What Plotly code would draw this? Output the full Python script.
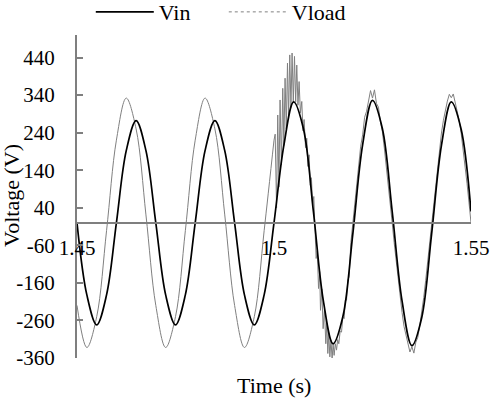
import plotly.graph_objects as go

# ---- data ----
t_vin = [1.4500, 1.4525, 1.4550, 1.4575, 1.4600, 1.4625, 1.4650, 1.4675, 1.4700, 1.4725,
         1.4750, 1.4775, 1.4800, 1.4825, 1.4850, 1.4875, 1.4900, 1.4925, 1.4950, 1.4975,
         1.5000, 1.5025, 1.5050, 1.5075, 1.5100, 1.5125, 1.5150, 1.5175, 1.5200, 1.5225,
         1.5250, 1.5275, 1.5300, 1.5325, 1.5350, 1.5375, 1.5400, 1.5425, 1.5450, 1.5475,
         1.5500]
vin = [0, -192, -272, -192, 0, 192, 272, 192, 0, -192,
       -272, -192, 0, 192, 272, 192, 0, -192, -272, -192,
       0, 206, 322, 249, 30, -206, -322, -249, -30, 208,
       326, 251, 30, -208, -327, -252, -30, 206, 322, 249,
       30]

t_vload_before = [1.4500, 1.4525, 1.4550, 1.4575, 1.4600, 1.4625, 1.4650, 1.4675, 1.4700, 1.4725,
                  1.4750, 1.4775, 1.4800, 1.4825, 1.4850, 1.4875, 1.4900, 1.4925, 1.4950, 1.4975,
                  1.5000]
vload_before = [-220, -332, -250, -21, 220, 332, 250, 21, -220, -332,
                -250, -21, 220, 332, 250, 21, -220, -332, -250, -21,
                220]

t_vload_after = [1.50000, 1.50030, 1.50065, 1.50095, 1.50125, 1.50154, 1.50188, 1.50222, 1.50250, 1.50281,
                 1.50312, 1.50342, 1.50371, 1.50400, 1.50430, 1.50459, 1.50490, 1.50520, 1.50550, 1.50578,
                 1.50608, 1.50637, 1.50670, 1.50705, 1.50735, 1.50764, 1.50800, 1.50832, 1.50860, 1.50891,
                 1.50920, 1.50950, 1.50980, 1.51010, 1.51040, 1.51070, 1.51100, 1.51130, 1.51160, 1.51180,
                 1.51214, 1.51247, 1.51281, 1.51315, 1.51340, 1.51366, 1.51391, 1.51417, 1.51446, 1.51475,
                 1.51500, 1.51526, 1.51556, 1.51587, 1.51616, 1.51645, 1.51680, 1.51714, 1.51747, 1.51780,
                 1.51810, 1.51841, 1.51874, 1.51907,
                 1.5195, 1.5200, 1.5205, 1.5210, 1.5215, 1.5220, 1.5225, 1.5230, 1.5235, 1.5240,
                 1.5245, 1.5250, 1.5255, 1.5260, 1.5265, 1.5270, 1.5275, 1.5280, 1.5285, 1.5290,
                 1.5295, 1.5300, 1.5305, 1.5310, 1.5315, 1.5320, 1.5325, 1.5330, 1.5335, 1.5340,
                 1.5345, 1.5350, 1.5355, 1.5360, 1.5365, 1.5370, 1.5375, 1.5380, 1.5385, 1.5390,
                 1.5395, 1.5400, 1.5405, 1.5410, 1.5415, 1.5420, 1.5425, 1.5430, 1.5435, 1.5440,
                 1.5445, 1.5450, 1.5455, 1.5460, 1.5465, 1.5470, 1.5475, 1.5480, 1.5485, 1.5490,
                 1.5495, 1.5500]
vload_after = [220, 236, 40, 287, 95, 327, 154, 358, 206, 385,
               250, 425, 284, 447, 307, 452, 320, 443, 322, 420,
               313, 376, 292, 323, 245, 275, 200, 225, 150, 181,
               100, 120, 45, 70, -15, -95, -75, -175, -130, -233,
               -176, -282, -229, -322, -267, -348, -293, -357, -312, -363,
               -322, -353, -322, -339, -311, -322, -288, -291, -251, -255,
               -206, -206, -152, -144,
               -53, 0, 53, 104, 153, 204, 234, 281, 297, 330,
               352, 332, 354, 318, 308, 270, 243, 199, 153, 104,
               53, 0, -53, -104, -153, -199, -239, -276, -298, -326,
               -344, -330, -347, -318, -305, -273, -239, -199, -153, -104,
               -53, 0, 53, 104, 153, 199, 239, 273, 301, 324,
               342, 333, 343, 320, 301, 273, 239, 199, 153, 104,
               53, 0]

y_tick_vals = [-360, -260, -160, -60, 40, 140, 240, 340, 440]
y_tick_text = ["-360", "-260", "-160", "-60", "40", "140", "240", "340", "440"]
x_tick_vals = [1.45, 1.50, 1.55]
x_tick_text = ["1.45", "1.5", "1.55"]

Y_MIN, Y_MAX = -360, 500
X_MIN, X_MAX = 1.45, 1.55

GREY_LINE = "#7f7f7f"
FONT = "Liberation Serif"

fig = go.Figure()
fig.add_trace(go.Scatter(x=t_vload_before, y=vload_before, mode="lines", name="Vload",
                         line=dict(color="#808080", width=1, shape="spline"),
                         showlegend=False, legendgroup="vload"))
fig.add_trace(go.Scatter(x=t_vload_after, y=vload_after, mode="lines", name="Vload",
                         line=dict(color="#808080", width=1),
                         showlegend=False, legendgroup="vload"))
fig.add_trace(go.Scatter(x=t_vin, y=vin, mode="lines", name="Vin",
                         line=dict(color="black", width=1.7, shape="spline")))
fig.add_trace(go.Scatter(x=[None], y=[None], mode="lines", name="Vload",
                         line=dict(color="#808080", width=1, dash="dot"),
                         legendgroup="vload"))

fig.update_layout(
    width=491, height=399,
    margin=dict(l=77, r=20, t=35, b=41, autoexpand=False),
    paper_bgcolor="white", plot_bgcolor="white",
    font=dict(family=FONT, size=21, color="black"),
    showlegend=True,
    legend=dict(orientation="h", x=0.035, y=1.071, xanchor="left", yanchor="middle",
                font=dict(family=FONT, size=22, color="black"),
                itemwidth=58, entrywidth=60, entrywidthmode="pixels",
                bgcolor="rgba(0,0,0,0)", tracegroupgap=0),
    xaxis=dict(range=[X_MIN, X_MAX], showgrid=False, zeroline=False,
               showline=True, linecolor=GREY_LINE, linewidth=2,
               anchor="free", position=(0 - Y_MIN) / (Y_MAX - Y_MIN),
               tickmode="array", tickvals=x_tick_vals, ticktext=x_tick_text,
               ticks="", ticklabelstandoff=6,
               tickfont=dict(family=FONT, size=21, color="black")),
    yaxis=dict(range=[Y_MIN, Y_MAX], showgrid=False, zeroline=False,
               showline=True, linecolor=GREY_LINE, linewidth=2,
               tickmode="array", tickvals=y_tick_vals, ticktext=y_tick_text,
               ticks="inside", ticklen=6, tickcolor=GREY_LINE, tickwidth=1.5,
               ticklabelstandoff=16,
               tickfont=dict(family=FONT, size=21, color="black")),
    annotations=[
        dict(text="Time (s)", xref="paper", yref="paper", x=0.5, y=-0.084,
             xanchor="center", yanchor="middle", showarrow=False,
             font=dict(family=FONT, size=22, color="black")),
        dict(text="Voltage (V)", xref="paper", yref="paper", x=-0.165, y=0.505,
             xanchor="center", yanchor="middle", textangle=-90, showarrow=False,
             font=dict(family=FONT, size=22, color="black")),
    ],
)

fig.write_html("out.html", config={"displayModeBar": False},
               post_script="document.body.style.margin='0';")
